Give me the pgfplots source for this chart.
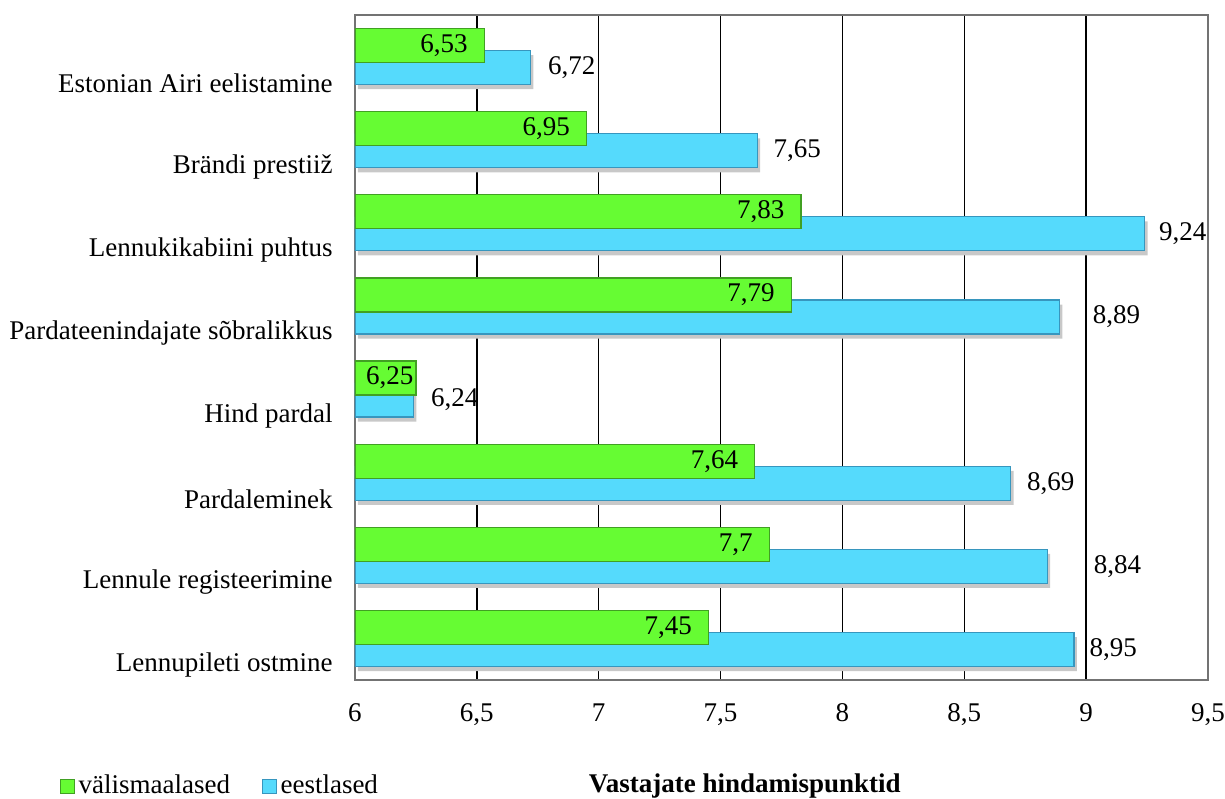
\documentclass[border=0pt]{standalone}
\usepackage{fontspec}
\setmainfont{Liberation Serif}
\usepackage{pgfplots}
\pgfplotsset{compat=1.18}
\usepackage{pgfplotstable}

\definecolor{grnface}{RGB}{102,252,51}
\definecolor{grnedge}{RGB}{65,160,35}
\definecolor{bluface}{RGB}{85,218,252}
\definecolor{bluedge}{RGB}{55,150,190}
\definecolor{shadowgray}{RGB}{200,200,200}

% idx: category position (bottom to top)
% vm / ee: scores of foreign / Estonian respondents
% dvm / dee: horizontal offset of the value label (pt)
\pgfplotstableread{
idx vm   dvm ee   dee
0   7.45 -8  8.95 7.5
1   7.70 -8  8.84 23
2   7.64 -8  8.69 8
3   6.25 -1  6.24 8.5
4   7.79 -8  8.89 16.5
5   7.83 -8  9.24 7
6   6.95 -8  7.65 8
7   6.53 -8  6.72 8.5
}\scores

\begin{document}
\fontsize{13.5}{16}\selectfont
\begin{tikzpicture}
\path[use as bounding box] (-177.5pt,-59pt) rectangle (435pt,340pt);
\begin{axis}[
  at={(0,0)}, anchor=south west,
  scale only axis, width=426.5pt, height=332.5pt,
  xbar, bar width=17pt,
  xmin=6, xmax=9.5, xtick={6,6.5,...,9.5},
  ymin=-0.5, ymax=7.5, ytick={0,...,7},
  yticklabels={Lennupileti ostmine, Lennule registeerimine\ , Pardaleminek, Hind pardal,
    Pardateenindajate sõbralikkus, Lennukikabiini puhtus, Brändi prestiiž,
    Estonian Airi eelistamine\ },
  /pgf/number format/use comma,
  /pgf/number format/1000 sep={},
  /pgf/number format/assume math mode=true,
  tick style={draw=none},
  major tick length=0pt,
  xticklabel style={yshift=-7pt},
  yticklabel style={xshift=-6.5pt, yshift=-13.5pt},
  xmajorgrids,
  major grid style={black, line width=0.65pt},
  axis line style={black!55, line width=0.8pt},
  xlabel={\textbf{Vastajate hindamispunktid}},
  xlabel style={at={(axis description cs:0.457,-0.16)}, anchor=center},
  legend style={at={(axis description cs:-0.353,-0.16)}, anchor=west,
    draw=none, fill=none, legend columns=2,
    /tikz/every even column/.append style={column sep=14pt}},
  legend cell align=left,
  legend image code/.code={\draw[#1] (0pt,-3.4pt) rectangle (6.8pt,3.4pt);},
]
\addlegendimage{draw=grnedge, fill=grnface}
\addlegendentry{välismaalased}
\addlegendimage{draw=bluedge, fill=bluface}
\addlegendentry{eestlased}

% soft shadow under the Estonian bars
\addplot[xbar, bar shift=-7.8pt, xshift=1.5pt, draw=none, fill=shadowgray,
  forget plot] table[x=ee, y=idx] {\scores};

% Estonian respondents (lower bar of each pair)
\addplot[xbar, bar shift=-5.5pt, draw=bluedge, line width=0.6pt, fill=bluface,
  visualization depends on={\thisrow{dee} \as \lblshift},
  nodes near coords,
  nodes near coords style={anchor=west, inner sep=0pt, xshift=\lblshift pt, text=black},
  forget plot] table[x=ee, y=idx] {\scores};

% foreign respondents (upper bar, drawn on top)
\addplot[xbar, bar shift=5.5pt, draw=grnedge, line width=0.6pt, fill=grnface,
  visualization depends on={\thisrow{dvm} \as \lblshift},
  nodes near coords,
  nodes near coords style={anchor=east, inner sep=0pt, xshift=\lblshift pt, text=black},
  forget plot] table[x=vm, y=idx] {\scores};
\end{axis}
\end{tikzpicture}
\end{document}
